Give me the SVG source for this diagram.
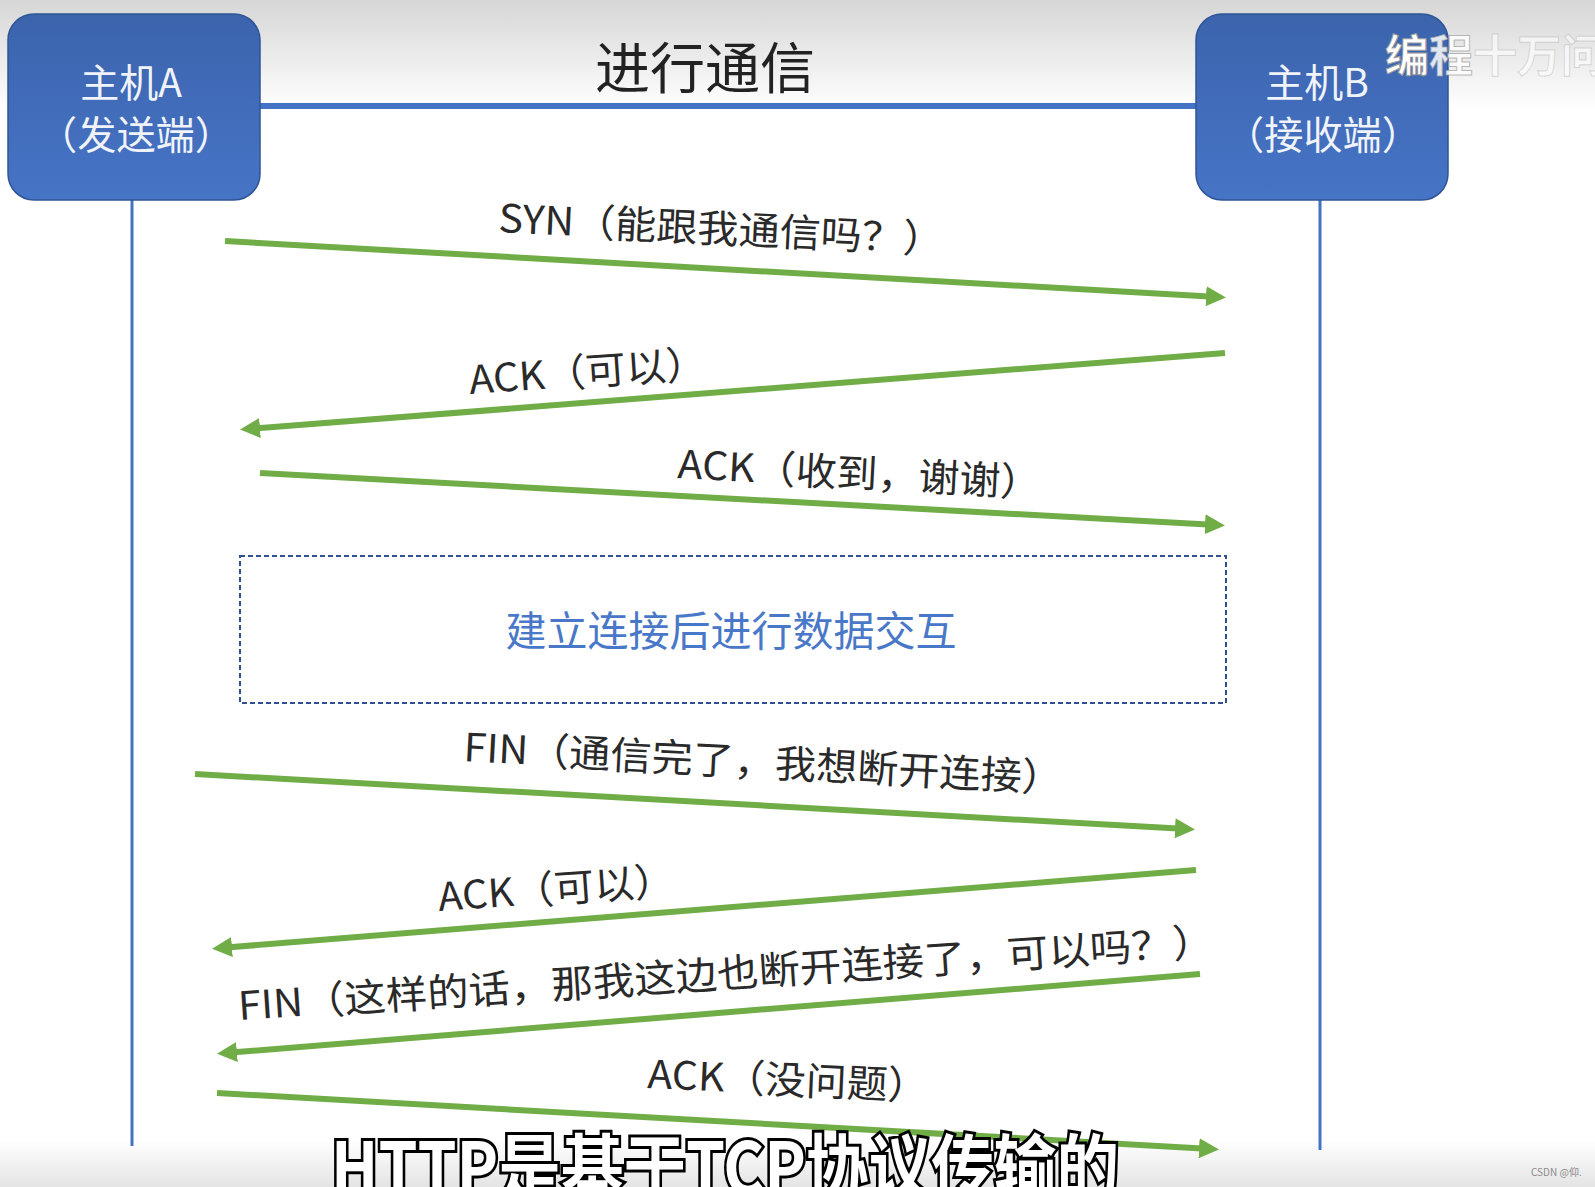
<svg xmlns="http://www.w3.org/2000/svg" width="1595" height="1187" viewBox="0 0 1595 1187">
<defs>
<linearGradient id="bgTop" x1="0" y1="0" x2="0" y2="1">
<stop offset="0" stop-color="#d6d6d6"/>
<stop offset="1" stop-color="#ffffff"/>
</linearGradient>
<linearGradient id="bgBot" x1="0" y1="0" x2="0" y2="1">
<stop offset="0" stop-color="#ffffff"/>
<stop offset="1" stop-color="#e4e4e4"/>
</linearGradient>
<linearGradient id="boxFill" x1="0" y1="0" x2="0" y2="1">
<stop offset="0" stop-color="#3c64ad"/>
<stop offset="1" stop-color="#4674c6"/>
</linearGradient>
<marker id="arr" viewBox="0 0 20 20" refX="12" refY="10" markerWidth="20" markerHeight="20" markerUnits="userSpaceOnUse" orient="auto">
<path d="M0,0 L20,10 L0,20 z" fill="#70ad47"/>
</marker>
<style>
.lbl{font-family:"Noto Sans CJK SC","Noto Sans",sans-serif;font-size:39px;fill:#2a2a2a}
.box{fill:url(#boxFill);stroke:#2f5597;stroke-width:1.5}
.boxt{font-family:"Noto Sans CJK SC","Noto Sans",sans-serif;font-size:39px;fill:#f0f3f9;text-anchor:middle}
.msg{stroke:#70ad47;stroke-width:6;fill:none;marker-end:url(#arr)}
.life{stroke:#4472c4;stroke-width:3}
</style>
</defs>
<rect x="0" y="0" width="1595" height="1187" fill="#ffffff"/>
<rect x="0" y="0" width="1595" height="110" fill="url(#bgTop)"/>
<rect x="0" y="1140" width="1595" height="47" fill="url(#bgBot)"/>

<text x="705" y="88" font-family="'Noto Sans CJK SC',sans-serif" font-size="55" fill="#222" text-anchor="middle">进行通信</text>

<g id="lifelines">
<line class="life" x1="132" y1="200" x2="132" y2="1146"/>
<line class="life" x1="1320" y1="200" x2="1320" y2="1150"/>
<line x1="258" y1="106" x2="1198" y2="106" stroke="#4472c4" stroke-width="6"/>
</g>

<g id="hostA">
<rect class="box" x="8" y="14" width="252" height="186" rx="26"/>
<text class="boxt" x="131" y="97">主机A</text>
<text class="boxt" x="136" y="149" textLength="196" lengthAdjust="spacingAndGlyphs">（发送端）</text>
</g>

<g id="hostB">
<rect class="box" x="1196" y="14" width="252" height="186" rx="26"/>
<text class="boxt" x="1317" y="97">主机B</text>
<text class="boxt" x="1323" y="149" textLength="196" lengthAdjust="spacingAndGlyphs">（接收端）</text>
</g>

<text x="1385" y="72" font-family="'Noto Sans CJK SC',sans-serif" font-size="44" font-weight="bold" fill="#ffffff" stroke="#9a9a9a" stroke-width="1"><tspan>编</tspan><tspan fill-opacity="0.85" stroke-opacity="0.7">程</tspan><tspan fill-opacity="0.6" stroke-opacity="0.35">十万问</tspan></text>

<g id="connectors">
<line class="msg" x1="225" y1="241" x2="1218" y2="297"/>
<line class="msg" x1="1225" y1="353" x2="248" y2="429"/>
<line class="msg" x1="260" y1="473" x2="1217" y2="525"/>
<line class="msg" x1="195" y1="774" x2="1187" y2="829"/>
<line class="msg" x1="1196" y1="870" x2="220" y2="948"/>
<line class="msg" x1="1200" y1="974" x2="225" y2="1053"/>
<line class="msg" x1="217" y1="1093" x2="1211" y2="1149"/>
</g>

<g id="labels">
<text class="lbl" x="498" y="232" transform="rotate(2.8 498 232)" textLength="446" lengthAdjust="spacingAndGlyphs">SYN（能跟我通信吗？）</text>
<text class="lbl" x="470" y="394" transform="rotate(-4 470 394)" textLength="238" lengthAdjust="spacingAndGlyphs">ACK（可以）</text>
<text class="lbl" x="677" y="478" transform="rotate(3 677 478)" textLength="364" lengthAdjust="spacingAndGlyphs">ACK（收到，谢谢）</text>
<text class="lbl" x="463" y="761" transform="rotate(3 463 761)" textLength="600" lengthAdjust="spacingAndGlyphs">FIN（通信完了，我想断开连接）</text>
<text class="lbl" x="439" y="911" transform="rotate(-4 439 911)" textLength="237" lengthAdjust="spacingAndGlyphs">ACK（可以）</text>
<text class="lbl" x="239" y="1020" transform="rotate(-3.8 239 1020)" textLength="978" lengthAdjust="spacingAndGlyphs">FIN（这样的话，那我这边也断开连接了，可以吗？）</text>
<text class="lbl" x="647" y="1088" transform="rotate(2.5 647 1088)" textLength="281" lengthAdjust="spacingAndGlyphs">ACK（没问题）</text>
</g>

<g id="dataExchange">
<rect x="240" y="556" width="986" height="147" fill="none" stroke="#2f528f" stroke-width="2" stroke-dasharray="5 3"/>
<text x="731" y="646" font-family="'Noto Sans CJK SC',sans-serif" font-size="41" fill="#4a78c8" text-anchor="middle">建立连接后进行数据交互</text>
</g>

<text x="331" y="1194" font-family="'Noto Sans CJK SC','Noto Sans',sans-serif" font-size="72" font-weight="bold" fill="#ffffff" stroke="#000000" stroke-width="6" paint-order="stroke" textLength="788" lengthAdjust="spacingAndGlyphs">HTTP是基于TCP协议传输的</text>

<text x="1531" y="1176" font-family="'Noto Sans CJK SC',sans-serif" font-size="10" fill="#8a8a8a">CSDN @仰.</text>
</svg>
